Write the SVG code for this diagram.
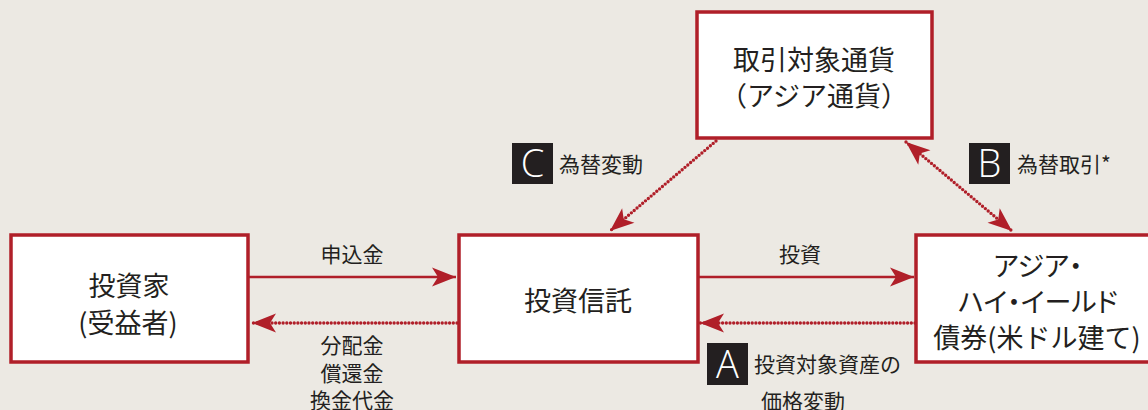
<svg xmlns="http://www.w3.org/2000/svg" width="1148" height="410" viewBox="0 0 1148 410">
<style>
.box{fill:#ffffff;stroke:#b01f29;stroke-width:3.5}
.t{font-family:"Noto Sans CJK JP","Noto Sans CJK SC",sans-serif;fill:#231f20;text-anchor:middle}
.big{font-size:27px}
.lbl{font-size:21px}
.palt{font-feature-settings:"palt"}
.solid{stroke:#b01f29;stroke-width:2.6;fill:none}
.dot{stroke:#b01f29;stroke-width:3.4;fill:none;stroke-linecap:round;stroke-dasharray:0 3.7}
.badge{fill:#231f20}
.bl{font-family:"Open Sans","Liberation Sans",sans-serif;font-weight:300;font-size:38px;fill:#ffffff;text-anchor:middle}
</style>
<defs>
<marker id="ah" markerUnits="userSpaceOnUse" markerWidth="28" markerHeight="24" viewBox="-26 -12 28 24" refX="0" refY="0" orient="auto-start-reverse">
<path d="M-24,-9.5 L0,0 L-24,9.5 L-18,0 Z" fill="#b01f29"/>
</marker>
</defs>
<rect width="1148" height="410" fill="#ece9e3"/>
<g id="connectors">
<line class="solid" x1="248" y1="277" x2="456" y2="277" marker-end="url(#ah)"/>
<line class="solid" x1="698" y1="277" x2="914" y2="277" marker-end="url(#ah)"/>
<line class="dot" x1="457" y1="323" x2="252" y2="323" marker-end="url(#ah)"/>
<line class="dot" x1="915" y1="323" x2="700" y2="323" marker-end="url(#ah)"/>
<line class="dot" x1="716" y1="141" x2="610" y2="231" marker-end="url(#ah)"/>
<line class="dot" x1="906" y1="142" x2="1012" y2="231" marker-start="url(#ah)" marker-end="url(#ah)"/>
</g>
<g id="currency">
<rect class="box" x="697" y="12" width="235" height="126"/>
<text class="t big" x="814" y="70">取引対象通貨</text>
<text class="t big" x="814" y="106">（アジア通貨）</text>
</g>
<g id="investor">
<rect class="box" x="11" y="235" width="237" height="127"/>
<text class="t big" x="129" y="296">投資家</text>
<text class="t big" x="128" y="333">(受益者)</text>
</g>
<g id="trust">
<rect class="box" x="459" y="235" width="239" height="127"/>
<text class="t big" x="578" y="311">投資信託</text>
</g>
<g id="bond">
<rect class="box" x="916" y="235" width="244" height="127"/>
<text class="t big palt" x="1038" y="276">アジア・</text>
<text class="t big palt" x="1038" y="312">ハイ・イールド</text>
<text class="t big" x="1037" y="348">債券(米ドル建て)</text>
</g>
<g id="labels">
<text class="t lbl" x="352" y="262">申込金</text>
<text class="t lbl" x="352" y="353">分配金</text>
<text class="t lbl" x="352" y="381">償還金</text>
<text class="t lbl" x="352" y="408">換金代金</text>
<text class="t lbl" x="800" y="262">投資</text>
</g>
<g id="badgeA">
<rect class="badge" x="707" y="343" width="41" height="42"/>
<text class="bl" x="727.5" y="378">A</text>
<text class="t lbl" x="754" y="372" style="text-anchor:start">投資対象資産の</text>
<text class="t lbl" x="761" y="409" style="text-anchor:start">価格変動</text>
</g>
<g id="badgeC">
<rect class="badge" x="512" y="143" width="41" height="41"/>
<text class="bl" x="532.5" y="177">C</text>
<text class="t lbl" x="559" y="172" style="text-anchor:start">為替変動</text>
</g>
<g id="badgeB">
<rect class="badge" x="969" y="143" width="41" height="41"/>
<text class="bl" x="989.5" y="177">B</text>
<text class="t lbl" x="1017" y="172" style="text-anchor:start">為替取引*</text>
</g>
</svg>
